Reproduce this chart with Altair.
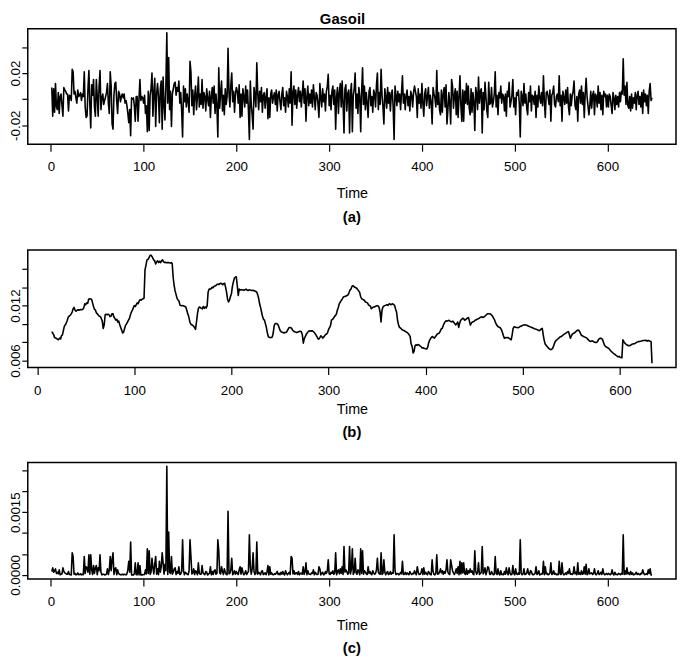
import altair as alt
import pandas as pd

FONT = "Liberation Sans"

# ---- data ----
# (a) Gasoil returns, in units of 0.001, t = 1..648
a_milli = [
    9, -13, 8, -10, 12, -6, -8, 5, -11, 2, 4, -5, -13, 9, 7, 6, 4, 4, -9, 3,
    2, -1, 23, 21, 4, 6, 1, -3, 7, 2, 3, 5, -1, 4, 2, 21, -6, -14, -13, 8,
    22, -4, -22, 11, 3, 15, -6, -13, 15, 2, -13, 10, 22, -8, 1, 4, -4, -1, 2, 5,
    12, -3, -11, 21, 10, -19, -23, 3, 12, 13, -2, -11, 6, 4, -2, 2, 4, 1, 4, -3,
    -1, -5, -11, -18, -8, -28, 1, 0, 1, -5, -17, 2, 2, -17, 0, 15, -1, 2, 1, -3,
    3, -11, -5, -25, 6, -24, 3, 8, 20, -13, 5, 16, -21, 4, 12, 2, -18, 8, 14, -23,
    17, -4, -16, 10, 51, -3, 32, -8, 6, -21, 4, 8, 12, 13, 3, 9, 6, 14, -3, 5,
    -9, -29, 10, -2, 8, -6, 4, -2, -10, 29, 21, -5, 7, -12, 3, 10, -8, 2, 17, -6,
    4, -4, 15, -7, 5, 2, -9, 8, 0, -5, 6, -14, 2, 9, -3, 10, -11, 4, -6, -29,
    24, -7, 5, 14, -9, 3, -12, 8, -4, 2, 39, 5, -6, 11, 20, -2, 6, -10, 4, 9,
    6, -3, 11, -14, 4, -13, 8, 2, -6, 10, -3, 7, -9, -31, 14, -4, -12, -23, 9, 3,
    -6, 28, 4, -8, 6, -2, 9, -10, 3, 5, -7, 2, 8, -15, 1, -14, 4, 7, -3, 2,
    5, -4, 7, -9, 3, 6, -2, -8, 4, 9, -5, 1, -10, 6, 2, -6, 8, -3, 21, -20,
    5, 10, -4, 7, -7, 3, 9, -2, 6, -6, 4, 14, -3, 8, -17, 2, 10, -5, 4, -3,
    7, -6, 11, 2, -8, 5, 3, -4, -14, 12, 1, -6, 8, -2, 4, -9, 6, 10, 19, -5,
    3, -8, 6, 10, -4, 7, -23, 2, 9, -11, 5, 12, -6, 14, -3, -26, 8, 11, -9, 4,
    7, -26, 5, 12, -25, 3, 8, 20, -7, 4, -11, 9, 2, -25, 6, 24, -4, 10, -8, 5,
    -3, -14, 6, 9, -5, 2, -10, 7, 4, -6, 11, 20, -8, 5, -4, 23, 3, -6, -19, 8,
    2, -7, 9, -3, 5, -9, 4, 7, -6, -31, 10, 3, -5, 6, -2, 4, -8, 5, 18, -3,
    4, -8, 3, 7, -5, 2, -9, 6, 3, -6, 5, 10, 6, 2, -14, 8, -3, 4, -7, 12,
    -3, -13, 4, 8, -5, 2, 9, -7, 3, -2, -19, 9, 4, 1, -6, 22, -4, 5, -8, -12,
    7, -10, 4, 9, -6, 11, -19, -8, 5, -3, -19, 15, 10, -7, 3, 8, -12, 6, -14, 2,
    18, -5, -17, 7, -17, 6, -3, 12, -4, 10, -7, -12, 8, -10, 5, -2, -24, 9, 4, -8,
    17, -3, 6, 8, -26, 5, -8, 13, 2, -9, -14, 13, -4, -3, 9, -6, -2, 4, 21, -6,
    3, -12, 5, 1, 10, -3, 4, 2, -9, 4, -13, 6, 2, 13, -6, -2, 3, 15, -6, 1,
    -12, 5, 3, 7, -4, -29, 6, 2, -5, 12, -3, 4, -7, -12, 5, -2, 10, -9, 3, 2,
    -4, 6, -14, 3, -6, 10, 1, -3, 5, -5, 18, -2, -14, 5, 6, 2, -4, 7, -17, 3,
    5, 10, -4, -6, 2, 4, -2, 18, -5, 3, -17, 6, 1, -4, 7, -3, 9, -6, -12, 4,
    -5, 3, 6, 14, -5, -8, 2, -17, 4, 7, -3, 10, -4, 5, -14, 4, 16, 2, -5, -12,
    -5, 6, -7, 3, 6, -12, 4, 2, -6, 10, -3, 5, -8, 3, -12, 6, 2, 4, -6, 3,
    -6, 4, 2, -5, -11, 5, 1, -8, 3, -4, 2, -6, 5, -2, 6, 4, 31, 3, 10, -4,
    13, -5, -7, 2, -9, 4, -7, 1, -3, 5, -8, 3, 6, -4, 2, -6, 5, -11, 7, -2,
    4, -5, 3, -11, 6, 12, -1, 1,
]

# (b) rolling volatility, in units of 1e-5, t = 15..633
B_START = 15
b_1e5 = [
    915, 900, 880, 850, 845, 840, 830, 828, 845, 835,
    870, 880, 930, 975, 990, 1010, 1040, 1075, 1085, 1095,
    1110, 1130, 1165, 1180, 1150, 1138, 1150, 1155, 1150, 1155,
    1158, 1155, 1160, 1175, 1220, 1210, 1230, 1225, 1270, 1275,
    1272, 1270, 1230, 1190, 1160, 1150, 1120, 1110, 1095, 1085,
    1080, 1060, 1030, 950, 990, 1100, 1105, 1100, 1105, 1100,
    1080, 1085, 1110, 1112, 1075, 1060, 1040, 1050, 1020, 1030,
    990, 960, 930, 900, 910, 950, 985, 1000, 1020, 1040,
    1060, 1100, 1130, 1150, 1175, 1200, 1190, 1210, 1230, 1220,
    1250, 1265, 1260, 1270, 1275, 1280, 1590, 1640, 1700, 1705,
    1720, 1745, 1752, 1740, 1720, 1700, 1690, 1655, 1680, 1690,
    1670, 1685, 1670, 1690, 1700, 1680, 1672, 1675, 1668, 1670,
    1672, 1668, 1665, 1670, 1660, 1510, 1420, 1360, 1320, 1280,
    1262, 1250, 1205, 1200, 1198, 1200, 1195, 1190, 1185, 1150,
    1110, 1080, 1030, 1000, 990, 985, 975, 960, 940, 1020,
    1110, 1170, 1185, 1180, 1170, 1165, 1190, 1170, 1185, 1175,
    1200, 1350, 1380, 1380, 1385, 1400, 1395, 1410, 1415, 1420,
    1430, 1435, 1430, 1440, 1445, 1440, 1430, 1440, 1445, 1400,
    1345, 1270, 1240, 1260, 1300, 1330, 1410, 1460, 1500, 1510,
    1515, 1420, 1310, 1380, 1370, 1375, 1370, 1372, 1368, 1375,
    1380, 1370, 1365, 1370, 1372, 1368, 1365, 1368, 1365, 1360,
    1355, 1350, 1320, 1280, 1220, 1180, 1130, 1080, 1050, 1041,
    1000, 960, 900, 860, 854, 850, 852, 856, 900, 980,
    1005, 1005, 1000, 990, 960, 930, 915, 910, 905, 900,
    905, 905, 915, 935, 955, 962, 958, 950, 930, 920,
    915, 912, 905, 908, 915, 918, 920, 915, 880, 790,
    840, 860, 885, 900, 915, 922, 925, 920, 925, 918,
    910, 895, 880, 860, 840, 833, 850, 870, 860, 845,
    855, 870, 885, 890, 905, 940, 960, 980, 1041, 1050,
    1060, 1080, 1090, 1105, 1150, 1180, 1220, 1238, 1255, 1270,
    1290, 1300, 1300, 1305, 1310, 1318, 1340, 1370, 1380, 1410,
    1417, 1410, 1400, 1395, 1390, 1375, 1360, 1345, 1300, 1275,
    1270, 1265, 1255, 1240, 1235, 1230, 1210, 1200, 1195, 1166,
    1175, 1185, 1184, 1190, 1195, 1200, 1195, 1180, 1130, 1022,
    1150, 1184, 1195, 1200, 1205, 1210, 1202, 1215, 1220, 1210,
    1215, 1220, 1210, 1202, 1160, 1130, 1040, 990, 962, 955,
    945, 933, 930, 925, 918, 912, 905, 895, 880, 860,
    780, 754, 682, 700, 760, 772, 765, 775, 770, 760,
    754, 740, 738, 735, 730, 728, 725, 745, 790, 820,
    840, 855, 862, 850, 845, 860, 875, 890, 895, 900,
    920, 945, 951, 980, 1005, 1023, 1035, 1030, 1035, 1040,
    1030, 1025, 1023, 1030, 1015, 1000, 990, 1005, 1020, 962,
    1010, 1040, 1050, 1060, 1059, 1040, 1045, 1055, 1065, 1070,
    1030, 987, 1010, 1020, 1023, 1030, 1040, 1045, 1050, 1055,
    1060, 1070, 1075, 1077, 1070, 1075, 1085, 1095, 1105, 1110,
    1112, 1110, 1105, 1095, 1080, 1060, 1040, 1010, 990, 975,
    965, 962, 955, 935, 905, 870, 844, 848, 852, 848,
    850, 842, 835, 826, 880, 950, 969, 965, 962, 960,
    958, 962, 970, 975, 980, 985, 987, 990, 988, 985,
    980, 975, 970, 965, 962, 958, 952, 948, 945, 940,
    935, 930, 926, 935, 945, 951, 880, 820, 780, 765,
    754, 740, 730, 722, 718, 725, 740, 770, 800, 815,
    826, 835, 845, 855, 860, 865, 875, 882, 890, 897,
    905, 912, 915, 880, 844, 870, 890, 895, 900, 910,
    920, 928, 933, 925, 905, 880, 870, 865, 860, 855,
    850, 844, 830, 820, 810, 808, 815, 812, 805, 800,
    798, 797, 810, 830, 840, 844, 840, 830, 800, 770,
    754, 748, 740, 736, 725, 712, 700, 690, 680, 672,
    665, 655, 648, 640, 645, 635, 632, 629, 826, 805,
    790, 780, 772, 765, 762, 761, 768, 775, 780, 782,
    783, 790, 798, 803, 806, 808, 810, 812, 815, 818,
    819, 820, 818, 812, 820, 815, 810, 808, 570,
]

# (c) squared returns, in units of 1e-6, t = 1..648
c_1e6 = [
    81, 169, 64, 100, 144, 36, 64, 25, 121, 4, 16, 25, 169, 81, 49, 36, 16, 16, 81, 9,
    4, 1, 529, 441, 16, 36, 1, 9, 49, 4, 9, 25, 1, 16, 4, 441, 36, 196, 169, 64,
    484, 16, 484, 121, 9, 225, 36, 169, 225, 4, 169, 100, 484, 64, 1, 16, 16, 1, 4, 25,
    144, 9, 121, 441, 100, 361, 529, 9, 144, 169, 4, 121, 36, 16, 4, 4, 16, 1, 16, 9,
    1, 25, 121, 324, 64, 784, 1, 0, 1, 25, 289, 4, 4, 289, 0, 225, 1, 4, 1, 9,
    9, 121, 25, 625, 36, 576, 9, 64, 400, 169, 25, 256, 441, 16, 144, 4, 324, 64, 196, 529,
    289, 16, 256, 100, 2601, 9, 1024, 64, 36, 441, 16, 64, 144, 169, 9, 81, 36, 196, 9, 25,
    81, 841, 100, 4, 64, 36, 16, 4, 100, 841, 441, 25, 49, 144, 9, 100, 64, 4, 289, 36,
    16, 16, 225, 49, 25, 4, 81, 64, 0, 25, 36, 196, 4, 81, 9, 100, 121, 16, 36, 841,
    576, 49, 25, 196, 81, 9, 144, 64, 16, 4, 1521, 25, 36, 121, 400, 4, 36, 100, 16, 81,
    36, 9, 121, 196, 16, 169, 64, 4, 36, 100, 9, 49, 81, 961, 196, 16, 144, 529, 81, 9,
    36, 784, 16, 64, 36, 4, 81, 100, 9, 25, 49, 4, 64, 225, 1, 196, 16, 49, 9, 4,
    25, 16, 49, 81, 9, 36, 4, 64, 16, 81, 25, 1, 100, 36, 4, 36, 64, 9, 441, 400,
    25, 100, 16, 49, 49, 9, 81, 4, 36, 36, 16, 196, 9, 64, 289, 4, 100, 25, 16, 9,
    49, 36, 121, 4, 64, 25, 9, 16, 196, 144, 1, 36, 64, 4, 16, 81, 36, 100, 361, 25,
    9, 64, 36, 100, 16, 49, 529, 4, 81, 121, 25, 144, 36, 196, 9, 676, 64, 121, 81, 16,
    49, 676, 25, 144, 625, 9, 64, 400, 49, 16, 121, 81, 4, 625, 36, 576, 16, 100, 64, 25,
    9, 196, 36, 81, 25, 4, 100, 49, 16, 36, 121, 400, 64, 25, 16, 529, 9, 36, 361, 64,
    4, 49, 81, 9, 25, 81, 16, 49, 36, 961, 100, 9, 25, 36, 4, 16, 64, 25, 324, 9,
    16, 64, 9, 49, 25, 4, 81, 36, 9, 36, 25, 100, 36, 4, 196, 64, 9, 16, 49, 144,
    9, 169, 16, 64, 25, 4, 81, 49, 9, 4, 361, 81, 16, 1, 36, 484, 16, 25, 64, 144,
    49, 100, 16, 81, 36, 121, 361, 64, 25, 9, 361, 225, 100, 49, 9, 64, 144, 36, 196, 4,
    324, 25, 289, 49, 289, 36, 9, 144, 16, 100, 49, 144, 64, 100, 25, 4, 576, 81, 16, 64,
    289, 9, 36, 64, 676, 25, 64, 169, 4, 81, 196, 169, 16, 9, 81, 36, 4, 16, 441, 36,
    9, 144, 25, 1, 100, 9, 16, 4, 81, 16, 169, 36, 4, 169, 36, 4, 9, 225, 36, 1,
    144, 25, 9, 49, 16, 841, 36, 4, 25, 144, 9, 16, 49, 144, 25, 4, 100, 81, 9, 4,
    16, 36, 196, 9, 36, 100, 1, 9, 25, 25, 324, 4, 196, 25, 36, 4, 16, 49, 289, 9,
    25, 100, 16, 36, 4, 16, 4, 324, 25, 9, 289, 36, 1, 16, 49, 9, 81, 36, 144, 16,
    25, 9, 36, 196, 25, 64, 4, 289, 16, 49, 9, 100, 16, 25, 196, 16, 256, 4, 25, 144,
    25, 36, 49, 9, 36, 144, 16, 4, 36, 100, 9, 25, 64, 9, 144, 36, 4, 16, 36, 9,
    36, 16, 4, 25, 121, 25, 1, 64, 9, 16, 4, 36, 25, 4, 36, 16, 961, 9, 100, 16,
    169, 25, 49, 4, 81, 16, 49, 1, 9, 25, 64, 9, 36, 16, 4, 36, 25, 121, 49, 4,
    16, 25, 9, 121, 36, 144, 1, 1,
]

x_ticks = [0, 100, 200, 300, 400, 500, 600]
ya_ticks = [-0.02, 0.0, 0.02, 0.04]
yb_ticks = [0.006, 0.008, 0.010, 0.012, 0.014, 0.016]
yc_ticks = [0.0, 0.0005, 0.001, 0.0015, 0.002, 0.0025]

df_a = pd.DataFrame({"t": list(range(1, len(a_milli) + 1)), "v": [x / 1000 for x in a_milli]})
df_b = pd.DataFrame({"t": list(range(B_START, B_START + len(b_1e5))), "v": [x / 1e5 for x in b_1e5]})
df_c = pd.DataFrame({"t": list(range(1, len(c_1e6) + 1)), "v": [x / 1e6 for x in c_1e6]})

W = 656


def panel(df, xdom, ydom, yticks, label_expr, tag, title_pad, tag_offset, height):
    x = alt.X(
        "t:Q",
        scale=alt.Scale(domain=xdom, nice=False, zero=False),
        axis=alt.Axis(
            values=x_ticks, format="d", title="Time", grid=False, domain=False,
            tickColor="black", tickWidth=1.2, tickSize=7, labelPadding=9,
            labelFont=FONT, labelFontSize=13.5, labelColor="black",
            titleFont=FONT, titleFontSize=14.5, titleFontWeight="normal",
            titleColor="black", titlePadding=title_pad, labelOverlap=False,
        ),
    )
    y = alt.Y(
        "v:Q",
        scale=alt.Scale(domain=ydom, nice=False, zero=False),
        axis=alt.Axis(
            values=yticks, labelExpr=label_expr, title=None, grid=False, domain=False,
            tickColor="black", tickWidth=1.2, tickSize=6, labelPadding=2,
            labelAngle=270, labelAlign="center", labelBaseline="alphabetic",
            labelFont=FONT, labelFontSize=13.5, labelColor="black", labelOverlap=False,
        ),
    )
    return (
        alt.Chart(df)
        .mark_line(color="black", strokeWidth=1.6, strokeJoin="round")
        .encode(x=x, y=y)
        .properties(
            width=W, height=height,
            title=alt.TitleParams(
                text=tag, orient="bottom", anchor="middle", font=FONT, fontSize=15,
                fontWeight="bold", color="black", offset=tag_offset,
            ),
        )
    )


pa = panel(df_a, [-24.9, 673.9], [-0.0346, 0.0541], ya_ticks,
           "datum.value == 0.02 ? '0.02' : (datum.value == -0.02 ? '-0.02' : '')",
           "(a)", 13, 11, 117)
pb = panel(df_b, [-9.7, 657.7], [0.00522, 0.01808], yb_ticks,
           "datum.value == 0.006 ? '0.006' : (datum.value == 0.012 ? '0.012' : '')",
           "(b)", 6, 9, 119)
pc = panel(df_c, [-24.9, 673.9], [-0.0001, 0.00269], yc_ticks,
           "datum.value == 0 ? '0.0000' : (datum.value == 0.0015 ? '0.0015' : '')",
           "(c)", 11, 9, 118)

inner = alt.vconcat(pb, pc, spacing=96, bounds="flush")
chart = alt.vconcat(
    pa, inner, spacing=107, bounds="flush",
    title=alt.TitleParams(text="Gasoil", anchor="middle", font=FONT, fontSize=15,
                          fontWeight="bold", color="black", offset=1, baseline="top"),
).properties(padding={"left": 0, "top": 0, "right": 0, "bottom": 0}
).configure_view(stroke="black", strokeWidth=1.5)

chart.save("out.html", embed_options={"renderer": "svg", "actions": False})
